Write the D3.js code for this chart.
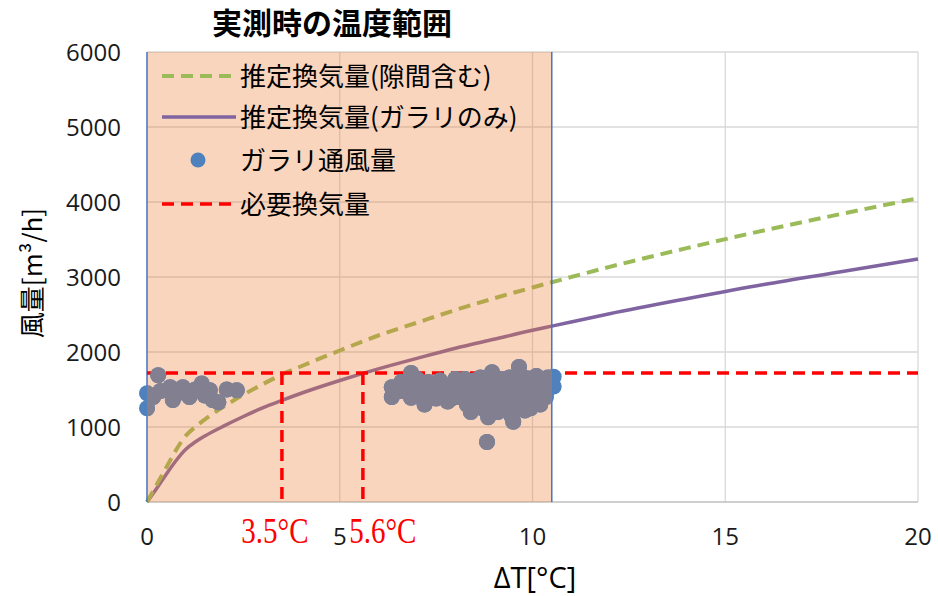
<!DOCTYPE html>
<html>
<head>
<meta charset="utf-8">
<script src="https://cdn.jsdelivr.net/npm/d3@7"></script>
<style>
  html, body { margin: 0; padding: 0; background: #fff; }
  svg { display: block; }
</style>
</head>
<body>
<svg id="chart" width="938" height="596"></svg>
<script>
// ---- data ----
const curveX = [0, 0.25, 0.5, 0.75, 1, 1.25, 1.5, 2, 2.5, 3, 3.5, 4, 5, 6, 7, 8, 9, 10, 10.5, 12, 14, 16, 18, 20];
// 推定換気量(隙間含む)
const estWithGap = [0, 230, 460, 690, 880, 1000, 1100, 1275, 1430, 1570, 1700, 1810, 2020, 2220, 2390, 2560, 2715, 2860, 2930, 3135, 3385, 3620, 3840, 4050];
// 推定換気量(ガラリのみ)
const estGalari = [0, 180, 370, 550, 700, 800, 880, 1015, 1140, 1255, 1355, 1450, 1620, 1775, 1915, 2050, 2170, 2290, 2345, 2510, 2710, 2900, 3070, 3240];
// ガラリ通風量 (measured)
const measX = [0, 0, 0.16, 0.29, 0.35, 0.6, 0.67, 0.93, 1.1, 1.25, 1.42, 1.63, 1.7, 1.85, 2.07, 2.33, 0.8, 1.5,
  6.35, 6.35, 6.6, 6.85, 6.85, 6.85, 7.05, 7.1, 7.2, 7.35, 7.5, 7.5, 7.65, 7.8, 7.9, 8.0, 8.1, 8.2, 8.3, 8.35,
  8.4, 8.5, 8.55, 8.6, 8.7, 8.75, 8.85, 8.9, 8.95, 9.0, 9.05, 9.1, 9.2, 9.25, 9.3, 9.35, 9.45, 9.5, 9.5, 9.6,
  9.65, 9.7, 9.75, 9.8, 9.85, 9.9, 10.0, 10.05, 10.1, 10.15, 10.2, 10.3, 10.35, 10.55, 10.55, 8.82,
  6.6, 7.0, 7.3, 7.6, 7.7, 8.0, 8.25, 8.45, 8.65, 8.8, 9.0, 9.15, 9.4, 9.55, 9.7, 9.95, 10.1, 10.25, 10.4, 10.4,
  7.2, 7.9, 8.6, 9.2, 9.85, 10.25];
const measY = [1250, 1450, 1400, 1690, 1480, 1530, 1360, 1530, 1400, 1500, 1580, 1490, 1360, 1330, 1500, 1490, 1450, 1420,
  1530, 1400, 1480, 1720, 1520, 1390, 1600, 1450, 1300, 1470, 1540, 1380, 1440, 1340, 1470, 1560, 1400, 1560, 1300, 1480,
  1200, 1620, 1380, 1520, 1250, 1450, 1130, 1580, 1730, 1330, 1480, 1200, 1640, 1400, 1280, 1550, 1150, 1070, 1450, 1620,
  1800, 1330, 1500, 1220, 1650, 1400, 1560, 1300, 1680, 1450, 1300, 1600, 1400, 1670, 1540, 800,
  1600, 1640, 1600, 1620, 1560, 1640, 1640, 1560, 1660, 1350, 1620, 1500, 1660, 1300, 1420, 1250, 1560, 1480, 1660, 1500,
  1520, 1380, 1360, 1300, 1540, 1380];
// 必要換気量
const requiredFlow = 1720;
const crossingT = [3.5, 5.6];
const crossingLabels = ["3.5°C", "5.6°C"];
const rangeT = [0, 10.5];
const xTicks = [0, 5, 10, 15, 20];
const yTicks = [0, 1000, 2000, 3000, 4000, 5000, 6000];
const legendLabels = ["推定換気量(隙間含む)", "推定換気量(ガラリのみ)", "ガラリ通風量", "必要換気量"];

// ---- layout ----
const svg = d3.select("#chart");
const plotL = 147, plotR = 918, plotT = 52, plotB = 502;
const x = d3.scaleLinear().domain([0, 20]).range([plotL, plotR]);
const y = d3.scaleLinear().domain([0, 6000]).range([plotB, plotT]);

const numFont = "'Open Sans', 'Noto Sans', sans-serif";
const jpFont = "'Noto Sans CJK JP', sans-serif";
const bandColor = "#ED7D31", bandOpacity = 0.32, pointColor = "#4F81BD";
const pointInBand = d3.interpolateRgb(pointColor, bandColor)(bandOpacity);

// grid
const grid = svg.append("g");
grid.selectAll("line.h").data(yTicks.filter(d => d > 0)).enter().append("line")
  .attr("x1", plotL).attr("x2", plotR).attr("y1", d => y(d)).attr("y2", d => y(d))
  .attr("stroke", "#d9d9d9").attr("stroke-width", 1.3);
grid.selectAll("line.v").data(xTicks.filter(d => d > 0)).enter().append("line")
  .attr("y1", plotT).attr("y2", plotB).attr("x1", d => x(d)).attr("x2", d => x(d))
  .attr("stroke", "#d9d9d9").attr("stroke-width", 1.3);
// x axis line
svg.append("line").attr("x1", plotL).attr("x2", plotR).attr("y1", plotB).attr("y2", plotB)
  .attr("stroke", "#bfbfbf").attr("stroke-width", 1.5);

// curves
const line = d3.line().x(d => x(d[0])).y(d => y(d[1])).curve(d3.curveMonotoneX);
svg.append("path").datum(curveX.map((t, i) => [t, estGalari[i]]))
  .attr("d", line).attr("fill", "none").attr("stroke", "#8064A2").attr("stroke-width", 3.5);
svg.append("path").datum(curveX.map((t, i) => [t, estWithGap[i]]))
  .attr("d", line).attr("fill", "none").attr("stroke", "#9BBB59").attr("stroke-width", 4)
  .attr("stroke-dasharray", "12,7");

// measured temperature range (translucent band)
svg.append("rect")
  .attr("x", x(rangeT[0])).attr("y", y(6000))
  .attr("width", x(rangeT[1]) - x(rangeT[0])).attr("height", y(0) - y(6000))
  .attr("fill", bandColor).attr("fill-opacity", bandOpacity);
svg.selectAll("line.range").data(rangeT).enter().append("line")
  .attr("x1", d => x(d)).attr("x2", d => x(d)).attr("y1", y(6000)).attr("y2", y(0))
  .attr("stroke", "#4472C4").attr("stroke-width", 1.5);

// required ventilation
svg.append("line").attr("x1", x(0)).attr("x2", x(20)).attr("y1", y(requiredFlow)).attr("y2", y(requiredFlow))
  .attr("stroke", "#FF0000").attr("stroke-width", 3.5).attr("stroke-dasharray", "12,7");
svg.selectAll("line.cross").data(crossingT).enter().append("line")
  .attr("x1", d => x(d)).attr("x2", d => x(d)).attr("y1", y(requiredFlow)).attr("y2", y(0))
  .attr("stroke", "#FF0000").attr("stroke-width", 3.5).attr("stroke-dasharray", "12,7");

// measured points: plain colour, then tinted inside the band
svg.append("defs").append("clipPath").attr("id", "bandClip").append("rect")
  .attr("x", x(rangeT[0])).attr("y", 0)
  .attr("width", x(rangeT[1]) - x(rangeT[0])).attr("height", 596);
const pts = measX.map((t, i) => [t, measY[i]]);
svg.append("g").selectAll("circle").data(pts).enter().append("circle")
  .attr("cx", d => x(d[0])).attr("cy", d => y(d[1])).attr("r", 8).attr("fill", pointColor);
svg.append("g").attr("clip-path", "url(#bandClip)").selectAll("circle").data(pts).enter().append("circle")
  .attr("cx", d => x(d[0])).attr("cy", d => y(d[1])).attr("r", 8).attr("fill", pointInBand);

// crossing labels
svg.selectAll("text.cross").data(crossingT).enter().append("text")
  .attr("transform", (d, i) => `translate(${x(d) + (i === 0 ? -7 : 20)},543) scale(1,1.25)`)
  .attr("text-anchor", "middle")
  .attr("font-family", "'Liberation Serif', 'DejaVu Serif', serif").attr("font-size", 29)
  .attr("fill", "#FF0000").text((d, i) => crossingLabels[i]);

// tick labels
svg.selectAll("text.xt").data(xTicks).enter().append("text")
  .attr("x", d => x(d)).attr("y", 545).attr("text-anchor", "middle")
  .attr("font-family", numFont).attr("font-size", 24).attr("fill", "#1a1a1a").text(d => d);
svg.selectAll("text.yt").data(yTicks).enter().append("text")
  .attr("x", 121).attr("y", d => y(d) + 9).attr("text-anchor", "end")
  .attr("font-family", numFont).attr("font-size", 24).attr("fill", "#1a1a1a").text(d => d);

// axis titles
svg.append("text").attr("x", 535).attr("y", 588).attr("text-anchor", "middle")
  .attr("font-family", numFont).attr("font-size", 29).text("ΔT[°C]");
svg.append("text").attr("transform", "translate(42,273) rotate(-90)").attr("text-anchor", "middle")
  .attr("font-family", jpFont).attr("font-size", 26).text("風量[m³/h]");

// chart title
svg.append("text").attr("x", 332).attr("y", 34).attr("text-anchor", "middle")
  .attr("font-family", jpFont).attr("font-size", 30).attr("font-weight", "bold").text("実測時の温度範囲");

// legend
const legY = [76, 117, 160, 204];
const lg = svg.append("g");
lg.append("line").attr("x1", 162).attr("x2", 236).attr("y1", legY[0]).attr("y2", legY[0])
  .attr("stroke", "#9BBB59").attr("stroke-width", 4).attr("stroke-dasharray", "12,7");
lg.append("line").attr("x1", 162).attr("x2", 236).attr("y1", legY[1]).attr("y2", legY[1])
  .attr("stroke", "#8064A2").attr("stroke-width", 3.5);
lg.append("circle").attr("cx", 198).attr("cy", legY[2]).attr("r", 7.5).attr("fill", pointColor);
lg.append("line").attr("x1", 162).attr("x2", 236).attr("y1", legY[3]).attr("y2", legY[3])
  .attr("stroke", "#FF0000").attr("stroke-width", 3.5).attr("stroke-dasharray", "12,7");
lg.selectAll("text").data(legendLabels).enter().append("text")
  .attr("x", 240).attr("y", (d, i) => legY[i] + 10)
  .attr("font-family", jpFont).attr("font-size", 26).attr("fill", "#000").text(d => d);
</script>
</body>
</html>
